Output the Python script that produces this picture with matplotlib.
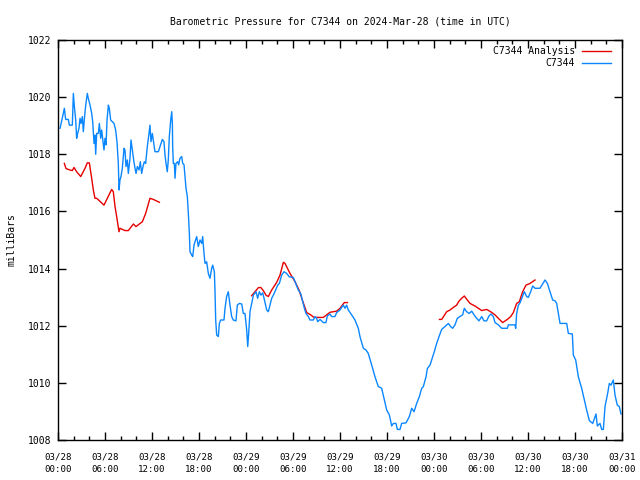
import datetime as dt
import numpy as np
import matplotlib
matplotlib.use("Agg")
import matplotlib.pyplot as plt
import matplotlib.dates as mdates

# hours after 2024-03-28 00:00 UTC, pressure in mb
obs_hours = [0.26, 0.68, 0.81, 0.98, 1.32, 1.45, 1.83, 1.96, 2.09, 2.26, 2.38, 2.51, 2.68, 2.81, 2.94,
             3.11, 3.23, 3.45, 3.57, 3.74, 3.87, 4.09, 4.3, 4.43, 4.6, 4.72, 4.81, 4.94, 5.15, 5.28,
             5.45, 5.57, 5.7, 5.87, 6.0, 6.13, 6.26, 6.43, 6.55, 6.72, 6.94, 7.15, 7.36, 7.53, 7.7,
             7.79, 7.91, 8.04, 8.21, 8.43, 8.55, 8.68, 8.85, 8.98, 9.19, 9.32, 9.49, 9.66, 9.83, 9.96,
             10.13, 10.34, 10.51, 10.68, 10.85, 11.02, 11.19, 11.4, 11.62, 11.74, 11.87, 12.04, 12.38, 12.81, 13.02,
             13.32, 13.53, 13.66, 13.79, 13.95, 14.08, 14.21, 14.39, 14.52, 14.6, 14.64, 14.72, 14.85, 14.94, 15.06,
             15.28, 15.4, 15.57, 15.79, 15.92, 16.09, 16.21, 16.34, 16.51, 16.64, 16.77, 16.85, 17.07, 17.2, 17.36,
             17.58, 17.71, 17.91, 18.13, 18.34, 18.47, 18.64, 18.77, 18.98, 19.19, 19.4, 19.62, 19.75, 19.96, 20.04,
             20.13, 20.26, 20.47, 20.6, 20.77, 21.19, 21.32, 21.53, 21.74, 21.96, 22.17, 22.38, 22.72, 22.89, 23.15,
             23.45, 23.66, 23.87, 24.09, 24.22, 24.34, 24.51, 24.72, 24.94, 25.28, 25.49, 25.7, 25.91, 26.13, 26.34,
             26.64, 26.85, 27.06, 27.28, 27.49, 27.79, 28.04, 28.26, 28.55, 28.85, 29.19, 29.53, 30.04, 30.26, 30.47,
             30.68, 30.98, 31.19, 31.45, 31.66, 31.96, 32.17, 32.6, 32.81, 33.02, 33.15, 33.45, 33.87, 34.21, 34.38,
             34.72, 34.94, 35.36, 35.57, 36.0, 36.21, 36.43, 36.64, 36.85, 37.06, 37.49, 37.91, 38.34, 38.55, 38.98,
             39.32, 39.61, 40.05, 40.47, 40.89, 41.32, 41.66, 41.96, 42.3, 42.6, 42.81, 43.15, 43.32, 43.66, 43.87,
             44.43, 44.85, 45.15, 45.45, 45.79, 46.13, 46.43, 46.64, 46.98, 47.15, 47.49, 47.7, 48.04, 48.34, 48.64,
             48.98, 49.4, 49.83, 50.13, 50.38, 50.68, 50.98, 51.41, 51.66, 51.87, 52.17, 52.5, 52.81, 53.11, 53.45,
             53.74, 54.09, 54.38, 54.72, 55.02, 55.28, 55.57, 55.79, 56.21, 56.64, 57.36, 57.49, 58.34, 58.43, 58.55,
             58.77, 58.98, 59.32, 59.53, 59.83, 60.04, 60.34, 60.6, 60.89, 61.32, 61.53, 62.17, 62.47, 62.81, 63.15,
             63.45, 63.66, 63.87, 64.09, 64.94, 65.15, 65.66, 65.79, 66.09, 66.43, 66.85, 67.19, 67.49, 67.83, 68.26,
             68.68, 68.85, 69.19, 69.41, 69.62, 69.83, 70.17, 70.38, 70.6, 70.89, 71.11, 71.4, 71.66, 71.87]
obs_mb = [1018.91, 1019.43, 1019.61, 1019.22, 1019.22, 1019.02, 1019.02, 1020.13, 1019.67, 1019.2, 1018.56, 1018.73, 1018.91, 1019.26, 1019.08,
          1019.32, 1018.79, 1019.49, 1019.78, 1020.13, 1019.96, 1019.72, 1019.43, 1019.14, 1018.38, 1018.67, 1018.0, 1018.73, 1018.73, 1019.08,
          1018.56, 1018.85, 1018.56, 1018.15, 1018.56, 1018.33, 1019.2, 1019.72, 1019.61, 1019.2, 1019.14, 1019.08, 1018.85, 1018.44, 1017.68,
          1016.75, 1017.1, 1017.22, 1017.51, 1018.21, 1018.15, 1017.57, 1017.8, 1017.33, 1017.86, 1018.5, 1018.15, 1017.8, 1017.51, 1017.33,
          1017.57, 1017.45, 1017.74, 1017.33, 1017.57, 1017.74, 1017.68, 1018.27, 1018.73, 1019.02, 1018.44, 1018.73, 1018.09, 1018.09, 1018.27,
          1018.52, 1018.44, 1017.97, 1017.68, 1017.39, 1017.8, 1018.62, 1019.2, 1019.49, 1019.08, 1018.27, 1017.68, 1017.68, 1017.16, 1017.68,
          1017.74, 1017.63, 1017.86, 1017.92, 1017.68, 1017.63, 1017.22, 1016.81, 1016.52, 1015.93, 1015.23, 1014.59, 1014.47, 1014.42, 1014.82,
          1015.02, 1015.12, 1014.77, 1015.0, 1014.88, 1015.12, 1014.53, 1014.18, 1014.24, 1013.83, 1013.66, 1014.01, 1014.12, 1013.89, 1013.25,
          1012.2, 1011.67, 1011.62, 1012.08, 1012.2, 1012.2, 1012.61, 1013.02, 1013.19, 1012.72, 1012.32, 1012.2, 1012.17, 1012.72, 1012.78,
          1012.76, 1012.43, 1012.43, 1011.85, 1011.27, 1011.73, 1012.49, 1012.78, 1013.07, 1013.19, 1012.96, 1013.19, 1013.07, 1013.15, 1012.92,
          1012.55, 1012.49, 1012.72, 1012.96, 1013.07, 1013.25, 1013.42, 1013.48, 1013.77, 1013.89, 1013.83, 1013.71, 1013.69, 1013.54, 1013.39,
          1013.25, 1013.13, 1012.9, 1012.61, 1012.43, 1012.32, 1012.2, 1012.2, 1012.32, 1012.26, 1012.14, 1012.22, 1012.11, 1012.11, 1012.34,
          1012.41, 1012.32, 1012.32, 1012.46, 1012.55, 1012.64, 1012.72, 1012.61, 1012.72, 1012.55, 1012.38, 1012.2, 1011.91, 1011.62, 1011.21,
          1011.15, 1011.03, 1010.62, 1010.21, 1009.87, 1009.81, 1009.4, 1009.05, 1008.88, 1008.49, 1008.58, 1008.58, 1008.37, 1008.37, 1008.58,
          1008.6, 1008.82, 1009.11, 1008.99, 1009.28, 1009.52, 1009.81, 1009.87, 1010.21, 1010.5, 1010.62, 1010.8, 1011.09, 1011.38, 1011.62,
          1011.87, 1011.97, 1012.08, 1011.97, 1011.91, 1012.03, 1012.26, 1012.34, 1012.38, 1012.61, 1012.49, 1012.43, 1012.51, 1012.38, 1012.26,
          1012.17, 1012.32, 1012.17, 1012.17, 1012.34, 1012.41, 1012.32, 1012.11, 1012.03, 1011.91, 1011.91, 1012.03, 1012.03, 1011.91, 1012.43,
          1012.72, 1012.8, 1013.04, 1013.19, 1013.02, 1012.99, 1013.19, 1013.39, 1013.31, 1013.31, 1013.31, 1013.6, 1013.48, 1013.19, 1012.9,
          1012.87, 1012.78, 1012.43, 1012.08, 1012.08, 1011.73, 1011.71, 1010.97, 1010.8, 1010.21, 1009.81, 1009.4, 1009.05, 1008.68, 1008.58,
          1008.91, 1008.49, 1008.58, 1008.37, 1008.37, 1009.17, 1009.63, 1009.98, 1009.92, 1010.1, 1009.57, 1009.22, 1009.17, 1008.91]

ana1_hours = [0.81, 1.02, 1.53, 1.83, 2.04, 2.38, 2.9, 3.45, 3.74, 4.0, 4.3, 4.51, 4.72, 4.94, 5.87,
              6.85, 7.06, 7.28, 7.49, 7.79, 7.91, 8.55, 8.98, 9.62, 9.96, 10.77, 11.19, 11.74, 12.17, 12.94]
ana1_mb = [1017.68, 1017.5, 1017.45, 1017.43, 1017.54, 1017.39, 1017.22, 1017.51, 1017.7, 1017.7, 1017.16, 1016.75, 1016.46, 1016.46, 1016.22,
           1016.77, 1016.69, 1016.17, 1015.82, 1015.29, 1015.41, 1015.33, 1015.33, 1015.56, 1015.47, 1015.64, 1015.93, 1016.46, 1016.42, 1016.32]
ana2_hours = [24.72, 25.15, 25.57, 25.88, 26.21, 26.55, 26.85, 27.28, 27.92, 28.34, 28.77, 28.98, 29.62,
              30.26, 30.77, 31.19, 31.75, 32.26, 32.68, 33.87, 34.72, 35.57, 36.0, 36.55, 36.94]
ana2_mb = [1013.05, 1013.19, 1013.33, 1013.34, 1013.23, 1013.07, 1013.02, 1013.25, 1013.52, 1013.77, 1014.22, 1014.18, 1013.83,
           1013.54, 1013.25, 1012.9, 1012.46, 1012.38, 1012.29, 1012.29, 1012.47, 1012.51, 1012.61, 1012.81, 1012.81]
ana3_hours = [48.7, 48.98, 49.62, 50.04, 50.47, 50.89, 51.19, 51.53, 51.87, 52.17, 52.6, 53.23, 53.66, 54.09,
              54.72, 55.23, 55.79, 56.21, 56.77, 57.36, 57.79, 58.13, 58.55, 58.89, 59.32, 59.74, 60.26, 60.89]
ana3_mb = [1012.22, 1012.22, 1012.49, 1012.55, 1012.64, 1012.72, 1012.86, 1012.96, 1013.04, 1012.93, 1012.78, 1012.69, 1012.61, 1012.53,
           1012.57, 1012.49, 1012.38, 1012.26, 1012.11, 1012.22, 1012.32, 1012.46, 1012.78, 1012.84, 1013.19, 1013.42, 1013.48, 1013.6]

start = dt.datetime(2024, 3, 28)
def to_time(hours):
    return [start + dt.timedelta(hours=h) for h in hours]

plt.rcParams['font.family'] = ['DejaVu Sans Mono']
plt.rcParams['font.size'] = 7

fig = plt.figure(figsize=(6.4, 4.8), dpi=100)
ax = fig.add_axes([58/640, 40/480, 564/640, 400/480])

red = '#e60000'
blue = '#0a87ff'
ax.plot(to_time(ana1_hours), ana1_mb, color=red, lw=1.0, label='C7344 Analysis')
ax.plot(to_time(ana2_hours), ana2_mb, color=red, lw=1.0)
ax.plot(to_time(ana3_hours), ana3_mb, color=red, lw=1.0)
ax.plot(to_time(obs_hours), obs_mb, color=blue, lw=1.0, label='C7344')

ax.set_xlim(start, start + dt.timedelta(hours=72))
ax.set_ylim(1008, 1022)
ax.set_yticks(np.arange(1008, 1023, 2))
ax.xaxis.set_major_locator(mdates.HourLocator(byhour=[0, 6, 12, 18]))
ax.xaxis.set_minor_locator(mdates.HourLocator(interval=2))
ax.xaxis.set_major_formatter(mdates.DateFormatter('%m/%d\n%H:%M'))
ax.tick_params(which='both', direction='in', top=True, right=True, width=1)
ax.tick_params(which='major', length=6)
ax.tick_params(which='minor', length=3)
ax.tick_params(axis='x', labelsize=6.6, pad=9)
ax.tick_params(axis='y', pad=5)
for s in ax.spines.values():
    s.set_linewidth(1)

ax.set_ylabel('milliBars', fontsize=7, labelpad=8)
fig.text(340/640, 1 - 21/480, 'Barometric Pressure for C7344 on 2024-Mar-28 (time in UTC)',
         ha='center', va='center', fontsize=7)

ax.legend(loc='upper right', bbox_to_anchor=((611 - 58)/564, 1 - 6/400), frameon=False,
          markerfirst=False, handlelength=3.0, handletextpad=0.7, labelspacing=0.25,
          borderaxespad=0, borderpad=0, fontsize=7)

fig.canvas.draw()
for lbl in ax.get_xticklabels():
    lbl.set_linespacing(1.5)

fig.savefig('out.png', dpi=100)
